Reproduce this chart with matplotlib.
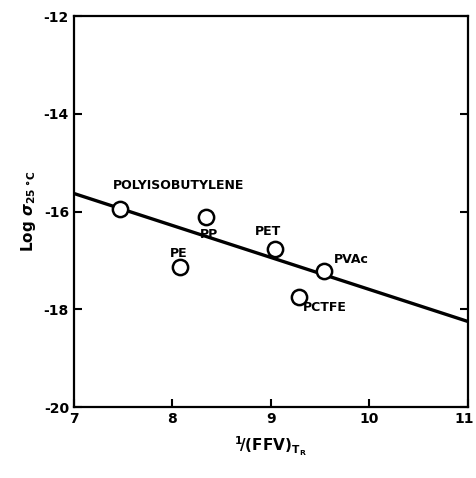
import numpy as np
import matplotlib
matplotlib.use("Agg")
import matplotlib.pyplot as plt
import matplotlib.transforms as mtrans

# data
names = ["POLYISOBUTYLENE", "PP", "PE", "PET", "PVAc", "PCTFE"]
inv_ffv = [7.47, 8.34, 8.08, 9.04, 9.54, 9.29]
log_sigma = [-15.95, -16.12, -17.14, -16.77, -17.21, -17.74]
# label anchor (lower-left) for each name
lab_x = [7.40, 8.28, 7.98, 8.84, 9.64, 9.33]
lab_y = [-15.6, -16.6, -17.0, -16.55, -17.12, -18.1]

fit_x = [7.0, 11.0]
fit_y = [-15.63, -18.25]

plt.rc('font', family='DejaVu Sans', weight='bold')
plt.rc('axes', unicode_minus=False, labelweight='bold')

fig = plt.figure(figsize=(4.76, 4.78), dpi=100)
ax = fig.add_axes([0.155, 0.1485, 0.828, 0.818])

ax.plot(fit_x, fit_y, color='black', lw=2.4, zorder=2)
ax.plot(inv_ffv, log_sigma, 'o', ms=11, mfc='white', mec='black', mew=1.8,
        zorder=3, clip_on=False)

for n, x, y in zip(names, lab_x, lab_y):
    ax.text(x, y, n, fontsize=9, fontweight='bold', ha='left', va='bottom')

ax.set_xlim(7, 11)
ax.set_ylim(-20, -12)
ax.set_xticks([7, 8, 9, 10, 11])
ax.set_yticks([-20, -18, -16, -14, -12])

for s in ax.spines.values():
    s.set_linewidth(1.6)

ax.tick_params(direction='in', length=6, width=1.5, labelsize=10,
               right=True, top=False)
for lab in ax.get_xticklabels() + ax.get_yticklabels():
    lab.set_fontweight('bold')

# nudge the last x tick label so it stays inside the figure
last = ax.get_xticklabels()[-1]
last.set_transform(last.get_transform() +
                   mtrans.ScaledTranslation(-4/100, 0, fig.dpi_scale_trans))

ax.set_xlabel(r'$^{\mathbf{1}}\!/\mathbf{(FFV)}_{\mathbf{T_R}}$', fontsize=11,
              labelpad=6)
ax.set_ylabel(r'Log $\sigma_{\mathbf{25\ °C}}$', fontsize=11, labelpad=4,
              fontweight='bold')

fig.savefig('out.png', dpi=100)
